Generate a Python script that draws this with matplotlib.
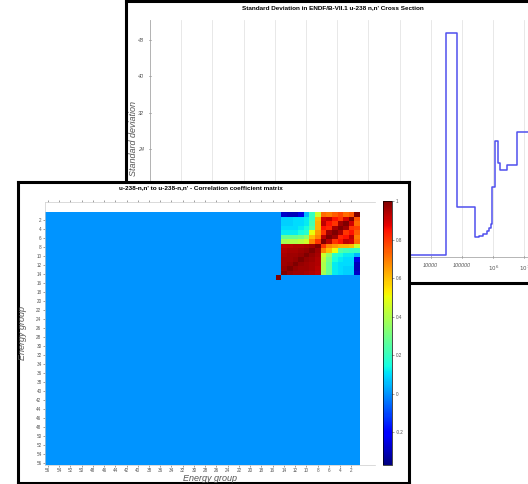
import numpy as np
import matplotlib
matplotlib.use('Agg')
import matplotlib.pyplot as plt
from matplotlib.ticker import FuncFormatter, FixedLocator

plt.rcParams['font.family'] = ['Liberation Sans', 'DejaVu Sans']

# standard deviation (%) per energy interval, step data
energy_bounds = [1e-5, 3.1e4, 6.9e4, 2.57e5, 3.56e5, 4.8e5, 6.2e5, 7.5e5, 8.3e5,
                 8.9e5, 1.14e6, 1.45e6, 1.7e6, 2.7e6, 5.9e6, 2.0e7]
std_dev = [0.5, 49.6, 11.1, 4.5, 4.7, 5.1, 5.8, 6.4, 7.3,
           15.4, 25.6, 20.9, 19.3, 20.4, 27.7]

# correlation coefficients for groups 1..15 (rest of the 56 groups is zero)
corr_rows = [
    [1.00, 0.75, 0.72, 0.78, 0.74, 0.70, 0.72, 0.45, 0.20, 0.05, -0.25, -0.30, -0.30, -0.28, 0.0],
    [0.75, 1.00, 0.90, 0.80, 0.85, 0.92, 0.90, 0.60, 0.20, 0.12, 0.10, 0.10, 0.08, 0.08, 0.0],
    [0.72, 0.90, 1.00, 0.96, 0.80, 0.85, 0.92, 0.62, 0.22, 0.12, 0.10, 0.10, 0.08, 0.08, 0.0],
    [0.78, 0.80, 0.96, 1.00, 0.95, 0.82, 0.85, 0.62, 0.25, 0.15, 0.12, 0.10, 0.10, 0.10, 0.0],
    [0.74, 0.85, 0.80, 0.95, 1.00, 0.96, 0.80, 0.65, 0.50, 0.18, 0.15, 0.12, 0.12, 0.12, 0.0],
    [0.70, 0.92, 0.85, 0.82, 0.96, 1.00, 0.93, 0.68, 0.60, 0.35, 0.30, 0.28, 0.28, 0.28, 0.0],
    [0.72, 0.90, 0.92, 0.85, 0.80, 0.93, 1.00, 0.80, 0.68, 0.45, 0.42, 0.40, 0.40, 0.38, 0.0],
    [0.45, 0.60, 0.62, 0.62, 0.65, 0.68, 0.80, 1.00, 0.96, 0.95, 0.94, 0.94, 0.93, 0.92, 0.0],
    [0.20, 0.20, 0.22, 0.25, 0.50, 0.60, 0.68, 0.96, 1.00, 0.97, 0.96, 0.95, 0.95, 0.94, 0.0],
    [0.05, 0.12, 0.12, 0.15, 0.18, 0.35, 0.45, 0.95, 0.97, 1.00, 0.97, 0.96, 0.96, 0.95, 0.0],
    [-0.25, 0.10, 0.10, 0.12, 0.15, 0.30, 0.42, 0.94, 0.96, 0.97, 1.00, 0.97, 0.96, 0.96, 0.0],
    [-0.30, 0.10, 0.10, 0.10, 0.12, 0.28, 0.40, 0.94, 0.95, 0.96, 0.97, 1.00, 0.97, 0.96, 0.0],
    [-0.30, 0.08, 0.08, 0.10, 0.12, 0.28, 0.40, 0.93, 0.95, 0.96, 0.96, 0.97, 1.00, 0.97, 0.0],
    [-0.28, 0.08, 0.08, 0.10, 0.12, 0.28, 0.38, 0.92, 0.94, 0.95, 0.96, 0.96, 0.97, 1.00, 0.0],
    [0.0, 0.0, 0.0, 0.0, 0.0, 0.0, 0.0, 0.0, 0.0, 0.0, 0.0, 0.0, 0.0, 0.0, 1.00],
]
n_groups = 56
group_ticks = list(range(2, 57, 2))
std_ticks = [0, 8, 16, 24, 32, 40, 48]
cbar_ticks = [-0.2, 0, 0.2, 0.4, 0.6, 0.8, 1]

W, H = 528, 484
fig = plt.figure(figsize=(W / 100, H / 100), dpi=100)


def box(x0, y0, x1, y1):
    # pixel box -> figure fraction rect
    return [x0 / W, 1 - y1 / H, (x1 - x0) / W, (y1 - y0) / H]


def panel(rect, z):
    p = fig.add_axes(rect, zorder=z)
    p.set_xticks([])
    p.set_yticks([])
    p.set_facecolor('white')
    for s in p.spines.values():
        s.set_linewidth(2.2)
        s.set_color('black')
    return p


gray = '#555555'

# ---- top panel: standard deviation
p1 = panel(box(126, 1, 600, 283), 1)
p1.text(333 / W, 1 - 8 / H, "Standard Deviation in ENDF/B-VII.1 u-238 n,n' Cross Section",
        transform=fig.transFigure, ha='center', va='center', fontsize=4.6, fontweight='bold')

ax1 = fig.add_axes(box(150, 20, 540, 257), zorder=2)
ax1.set_facecolor('none')
ax1.step(energy_bounds, std_dev + [std_dev[-1]], where='post', color='#5050ee', lw=1.1)
ax1.set_xscale('log')
ax1.set_xlim(1e-5, 10 ** 7.5)
ax1.set_ylim(0, 52.5)
ax1.set_yticks(std_ticks)
ax1.xaxis.set_major_locator(FixedLocator([10.0 ** k for k in range(-5, 8)]))
ax1.xaxis.set_minor_locator(FixedLocator([]))


def efmt(v, pos):
    if 1 <= v <= 1e5:
        return '%d' % round(v)
    return r'$10^{%d}$' % round(np.log10(v))


ax1.xaxis.set_major_formatter(FuncFormatter(efmt))
ax1.grid(axis='x', color='#e4e4e4', lw=0.6)
for s in ['top', 'right']:
    ax1.spines[s].set_visible(False)
for s in ['left', 'bottom']:
    ax1.spines[s].set_color('#aaaaaa')
    ax1.spines[s].set_linewidth(0.6)
ax1.tick_params(labelsize=4, colors=gray, length=2, width=0.5, direction='inout')
for lab in ax1.get_xticklabels() + ax1.get_yticklabels():
    lab.set_fontstyle('italic')
ax1.set_ylabel('Standard deviation', fontsize=6.5, color=gray, style='italic', labelpad=0)

# ---- bottom panel: correlation matrix
p2 = panel(box(18, 182, 409, 483), 3)
p2.text(201 / W, 1 - 188 / H, "u-238-n,n' to u-238-n,n' - Correlation coefficient matrix",
        transform=fig.transFigure, ha='center', va='center', fontsize=4.6, fontweight='bold')

corr = np.zeros((n_groups, n_groups))
blk = np.array(corr_rows)
corr[:blk.shape[0], :blk.shape[1]] = blk

ax2 = fig.add_axes(box(45, 202, 375, 465), zorder=4)
im = ax2.imshow(corr, cmap='jet', vmin=-0.37, vmax=1.0, aspect='auto',
                interpolation='nearest', extent=(0.5, n_groups + 0.5, n_groups + 0.5, 0.5))
ax2.set_xlim(n_groups + 0.5, -2.2)
ax2.set_ylim(n_groups + 0.5, -1.9)
ax2.set_xticks(group_ticks)
ax2.set_yticks(group_ticks)
ax2.tick_params(labelsize=3.3, colors=gray, length=1.5, width=0.4, pad=1, top=True)
ax2.spines['right'].set_visible(False)
for s in ['left', 'bottom', 'top']:
    ax2.spines[s].set_color('#cccccc')
    ax2.spines[s].set_linewidth(0.5)
ax2.set_xlabel('Energy group', fontsize=6.5, color=gray, style='italic', labelpad=0)
ax2.set_ylabel('Energy group', fontsize=6.5, color=gray, style='italic')
ax2.yaxis.set_label_coords(-0.055, 0.5)
ax2.xaxis.set_label_coords(0.5, -0.036)

cax = fig.add_axes(box(383, 201, 392, 465), zorder=4)
cb = fig.colorbar(im, cax=cax, ticks=cbar_ticks)
cb.ax.set_yticklabels(['-0.2', '0', '0.2', '0.4', '0.6', '0.8', '1'])
cb.ax.tick_params(labelsize=3.3, colors=gray, length=1.5, width=0.4, pad=1.5)
cb.outline.set_linewidth(0.5)

fig.savefig('out.png', dpi=100)
